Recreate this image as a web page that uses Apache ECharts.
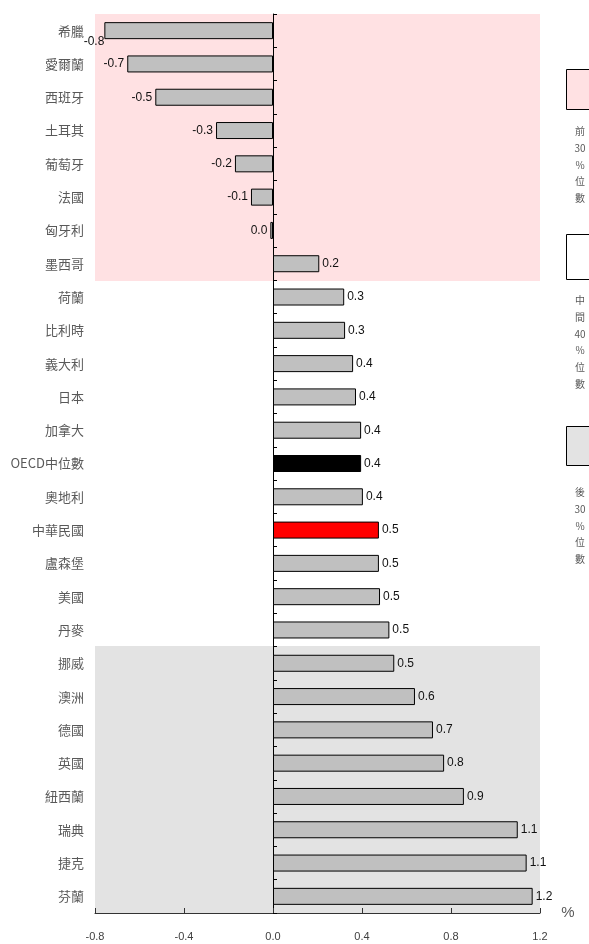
<!DOCTYPE html>
<html>
<head>
<meta charset="utf-8">
<script src="https://cdn.jsdelivr.net/npm/echarts@6/dist/echarts.min.js"></script>
<style>
html,body{margin:0;padding:0;background:#fff;}
#chart{width:589px;height:944px;}
</style>
</head>
<body>
<div id="chart"></div>
<script>
const categories = ['希臘','愛爾蘭','西班牙','土耳其','葡萄牙','法國','匈牙利','墨西哥',
  '荷蘭','比利時','義大利','日本','加拿大','OECD中位數','奧地利','中華民國','盧森堡','美國','丹麥',
  '挪威','澳洲','德國','英國','紐西蘭','瑞典','捷克','芬蘭'];
const values = [-0.758,-0.655,-0.529,-0.256,-0.171,-0.099,-0.012,0.208,
  0.32,0.324,0.36,0.373,0.396,0.396,0.404,0.476,0.476,0.481,0.523,
  0.545,0.638,0.719,0.769,0.858,1.10,1.14,1.167];
// zone of each category: 0 = top 30%, 1 = middle 40%, 2 = bottom 30%
const zones = [0,0,0,0,0,0,0,0, 1,1,1,1,1,1,1,1,1,1,1, 2,2,2,2,2,2,2,2];
const xTicks = [-0.8,-0.4,0.0,0.4,0.8,1.2];
const legendLabels = ['前\n30\n%\n位\n數','中\n間\n40\n%\n位\n數','後\n30\n%\n位\n數'];

const zoneColors = ['#ffe1e3', null, '#e3e3e3'];
const legendFills = ['#ffe1e3', '#ffffff', '#e3e3e3'];
const barColor = '#c0c0c0';
const specialColors = {'OECD中位數': '#000000', '中華民國': '#ff0000'};

function fmt(v){ let s = v.toFixed(1); if (s === '-0.0') s = '0.0'; return s; }

const mainData = values.map((v, i) => {
  const item = {
    value: v,
    itemStyle: { color: specialColors[categories[i]] || barColor },
    label: { position: v < 0 ? 'left' : 'right' }
  };
  if (i === 0) item.label.offset = [3, 11];
  return item;
});
const zoneData = zones.map((z, i) => [0, i, z]);

const chart = echarts.init(document.getElementById('chart'));
const legendY = [[69, 109, 131], [234, 279, 300], [426, 465, 492]];
const graphics = [];
legendY.forEach((g, i) => {
  graphics.push({
    type: 'rect', shape: { x: 566.5, y: g[0] + 0.5, width: 40, height: g[1] - g[0] },
    style: { fill: legendFills[i], stroke: '#000', lineWidth: 1 }, z: 10
  });
  graphics.push({
    type: 'text', x: 580, y: g[2] - 8,
    style: { text: legendLabels[i], fill: '#595959', font: '10px "Noto Sans CJK TC", sans-serif',
      textAlign: 'center', textVerticalAlign: 'top', lineHeight: 16.7 }, z: 10
  });
});
graphics.push({
  type: 'text', x: 568, y: 913,
  style: { text: '%', fill: '#595959', font: '15px "Liberation Sans", sans-serif',
    textAlign: 'center', textVerticalAlign: 'middle' }, z: 10
});

chart.setOption({
  animation: false,
  backgroundColor: '#ffffff',
  grid: { left: 95, right: 49, top: 14, bottom: 31, containLabel: false, outerBoundsMode: 'none' },
  xAxis: [{
    type: 'value', min: xTicks[0], max: xTicks[xTicks.length - 1], interval: 0.4,
    axisLine: { show: true, onZero: false, lineStyle: { color: '#333', width: 1 } },
    axisTick: { show: true, inside: true, length: 5, lineStyle: { color: '#333' } },
    splitLine: { show: false },
    axisLabel: { margin: 18, fontSize: 11, color: '#404040',
      fontFamily: '"Liberation Sans Narrow","Liberation Sans",sans-serif',
      formatter: v => v.toFixed(1) }
  }],
  yAxis: [{
    type: 'category', data: categories, inverse: true,
    axisLine: { show: true, onZero: true, lineStyle: { color: '#000', width: 1 } },
    axisTick: { show: true, inside: true, length: 4, lineStyle: { color: '#000' } },
    axisLabel: { show: false },
    splitLine: { show: false }
  }, {
    type: 'category', data: categories, inverse: true, position: 'left',
    axisLine: { show: false, onZero: false },
    axisTick: { show: false },
    axisLabel: { show: true, margin: 11, fontSize: 13, color: '#595959',
      fontFamily: '"Noto Sans CJK TC", sans-serif', interval: 0 },
    splitLine: { show: false }
  }],
  series: [{
    name: 'zone', type: 'custom', xAxisIndex: 0, yAxisIndex: 1, silent: true, z: 0,
    data: zoneData, encode: { x: 0, y: 1 }, clip: false,
    renderItem: function (params, api) {
      const color = zoneColors[api.value(2)];
      if (!color) return null;
      const c = api.coord([0, api.value(1)]);
      const h = api.size([0, 1])[1];
      const cs = params.coordSys;
      const top = Math.floor(c[1] - h / 2);
      const bottom = Math.ceil(c[1] + h / 2);
      return { type: 'rect', shape: { x: cs.x, y: top, width: cs.width, height: bottom - top },
        style: { fill: color } };
    }
  }, {
    name: 'value', type: 'bar', xAxisIndex: 0, yAxisIndex: 0, barWidth: 17,
    data: mainData, z: 5,
    itemStyle: { borderColor: '#000', borderWidth: 1 },
    label: { show: true, distance: 3, fontSize: 12, color: '#111',
      fontFamily: '"Liberation Sans", Arial, sans-serif',
      formatter: p => fmt(p.value) }
  }],
  graphic: graphics
});
</script>
</body>
</html>
